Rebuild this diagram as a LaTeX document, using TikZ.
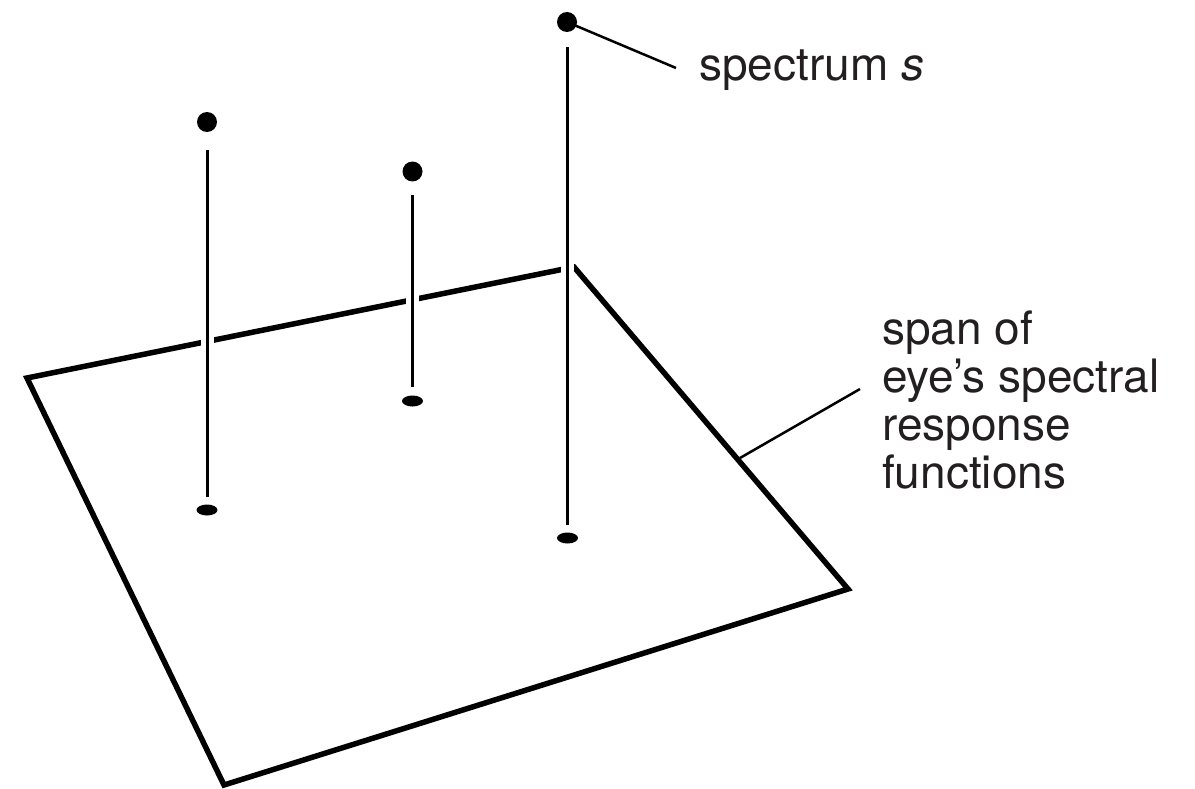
\documentclass[tikz,border=0pt]{standalone}
\usepackage{fontspec}
\setmainfont{TeX Gyre Heros}
\usetikzlibrary{shapes.geometric}
\definecolor{txt}{HTML}{231F20}
\begin{document}
\begin{tikzpicture}[x=1pt,y=-1pt,
  plane/.style={line width=5.5pt,line join=miter,black},
  stem/.style={line width=3pt,black},
  leader/.style={line width=2.5pt,black},
  halo/.style={line width=13pt,white},
  topdot/.style={circle,fill=black,inner sep=0pt,minimum size=20pt},
  footdot/.style={ellipse,fill=black,inner sep=0pt,minimum width=21pt,minimum height=11pt},
  lbl/.style={text=txt,inner sep=0pt,font=\fontsize{46}{48}\selectfont}]
\useasboundingbox (0,0) rectangle (1195,789);
% plane corners
\coordinate (pL) at (27,378);
\coordinate (pT) at (574,267);
\coordinate (pR) at (848,589);
\coordinate (pB) at (224,785);
\draw[plane] (pL) -- (pT) -- (pR) -- (pB) -- cycle;
% gaps where stems cross back edge
\draw[halo] (207,330) -- (207,352);
\draw[halo] (412.5,288) -- (412.5,311);
\draw[halo] (567.5,255) -- (567.5,282);
% stems
\node[topdot] (d1) at (207,122) {};
\node[topdot] (d2) at (412.5,171.5) {};
\node[topdot] (d3) at (567,22) {};
\node[footdot] (f1) at (207,510) {};
\node[footdot] (f2) at (412.5,401) {};
\node[footdot] (f3) at (567.5,538) {};
\coordinate (s1a) at (207,150);  \coordinate (s1b) at (207,497);
\coordinate (s2a) at (412.5,195); \coordinate (s2b) at (412.5,387);
\coordinate (s3a) at (567.5,47); \coordinate (s3b) at (567.5,525);
\draw[stem] (s1a) -- (s1b);
\draw[stem] (s2a) -- (s2b);
\draw[stem] (s3a) -- (s3b);
% labels
\node[lbl,anchor=base west] (ls) at (699,81) {spectrum \textit{s}};
\coordinate (le1) at (676,68);
\draw[leader] (d3.center) -- (le1);
\node[lbl,anchor=base west] (lp1) at (882,344) {span of};
\node[lbl,anchor=base west] (lp2) at (882,392) {eye’s spectral};
\node[lbl,anchor=base west] (lp3) at (882,440) {response};
\node[lbl,anchor=base west] (lp4) at (882,488) {functions};
\coordinate (le2a) at (740,458);
\coordinate (le2b) at (860,389);
\draw[leader] (le2a) -- (le2b);
\end{tikzpicture}
\end{document}
